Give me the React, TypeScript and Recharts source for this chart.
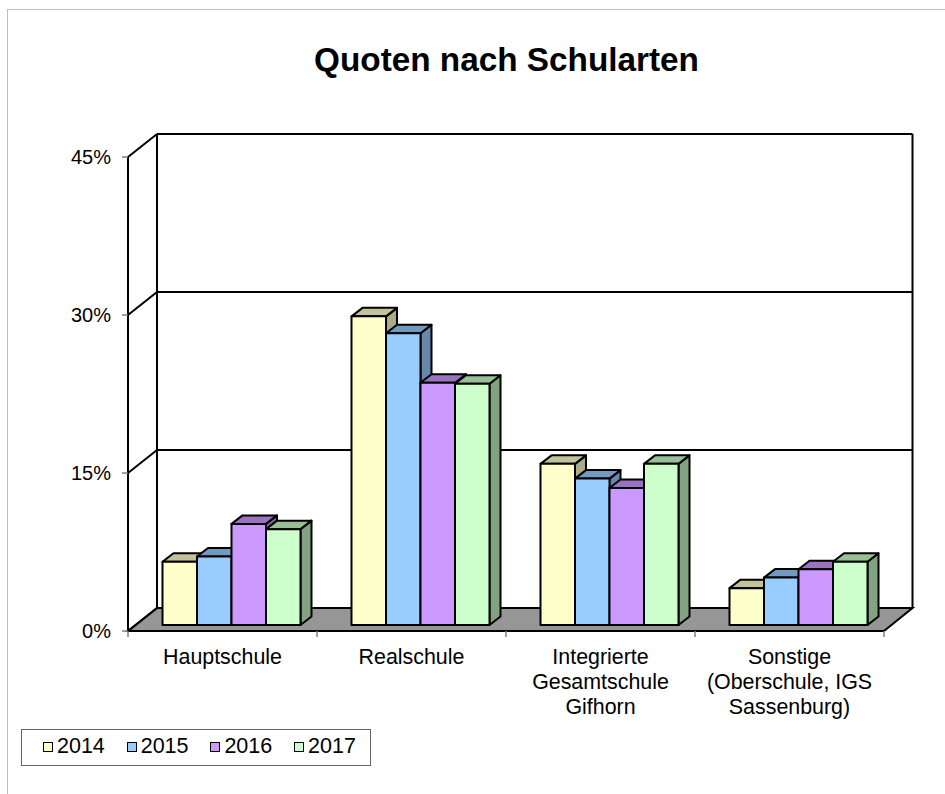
import { BarChart, Bar, XAxis, YAxis, CartesianGrid, usePlotArea } from 'recharts';

const categories = ['Hauptschule', 'Realschule', 'Integrierte Gesamtschule Gifhorn', 'Sonstige (Oberschule, IGS Sassenburg)'];
const categoryLines = [['Hauptschule'], ['Realschule'], ['Integrierte', 'Gesamtschule', 'Gifhorn'], ['Sonstige', '(Oberschule, IGS', 'Sassenburg)']];
const values2014 = [6.0, 29.3, 15.3, 3.5];
const values2015 = [6.5, 27.7, 13.9, 4.5];
const values2016 = [9.6, 23.0, 13.0, 5.3];
const values2017 = [9.1, 22.9, 15.3, 6.0];
const years = ['2014', '2015', '2016', '2017'];
const yTicks = [0, 15, 30, 45];
const yMax = 45;

const colors = ['#FFFFCC', '#99CCFF', '#CC99FF', '#CCFFCC'];
const topColors = ['#C2C29B', '#7299BF', '#9A73BF', '#99BF99'];
const sideColors = ['#ABAB89', '#6688AA', '#8866AA', '#82A382'];

const data = categories.map((name, i) => ({
  name,
  y2014: values2014[i],
  y2015: values2015[i],
  y2016: values2016[i],
  y2017: values2017[i],
}));

const FONT = '"Liberation Sans", Arial, sans-serif';
const WALL_DX = 29;
const WALL_DY = -23;
const PLOT_LEFT = 128;
const CATEGORY_STEP = 189;

function Bar3D(props: any) {
  const { x, y, width, height, index3d } = props;
  const dx = 11;
  const dy = -8.5;
  const l = x + 8.5;
  const r = l + width;
  const t = y - 6;
  const b = t + height;
  return (
    <g stroke="#000" strokeWidth={2} strokeLinejoin="round">
      <polygon points={`${r},${t} ${r + dx},${t + dy} ${r + dx},${b + dy} ${r},${b}`} fill={sideColors[index3d]} />
      <polygon points={`${l},${t} ${l + dx},${t + dy} ${r + dx},${t + dy} ${r},${t}`} fill={topColors[index3d]} />
      <rect x={l} y={t} width={width} height={height} fill={colors[index3d]} />
    </g>
  );
}

function Floor() {
  const plot = usePlotArea();
  if (!plot) return null;
  const left = plot.x;
  const right = plot.x + plot.width;
  const base = plot.y + plot.height;
  return (
    <polygon
      points={`${left},${base} ${left + WALL_DX},${base + WALL_DY} ${right + WALL_DX - 0.5},${base + WALL_DY} ${right},${base}`}
      fill="#969696"
      stroke="#000"
      strokeWidth={2}
    />
  );
}

function YTick(props: any) {
  const { x, y, payload } = props;
  return (
    <g>
      <line x1={PLOT_LEFT} y1={y} x2={PLOT_LEFT + WALL_DX} y2={y + WALL_DY} stroke="#000" strokeWidth={2} />
      <text x={x} y={y} dy={7} textAnchor="end" fontFamily={FONT} fontSize={20} fill="#000">
        {payload.value}%
      </text>
    </g>
  );
}

function XTick(props: any) {
  const { x, index } = props;
  const axisY = 631;
  // ticks sit on the category boundaries, not under the labels
  return (
    <g>
      <line x1={x - CATEGORY_STEP / 2} y1={axisY} x2={x - CATEGORY_STEP / 2} y2={axisY + 6} stroke="#808080" strokeWidth={1.5} />
      {index === categories.length - 1 && (
        <line x1={x + CATEGORY_STEP / 2} y1={axisY} x2={x + CATEGORY_STEP / 2} y2={axisY + 6} stroke="#808080" strokeWidth={1.5} />
      )}
      <text x={x} y={axisY} textAnchor="middle" fontFamily={FONT} fontSize={21.4} fill="#000">
        {categoryLines[index].map((line, i) => (
          <tspan key={line} x={x} dy={i === 0 ? 33 : 25}>
            {line}
          </tspan>
        ))}
      </text>
    </g>
  );
}

export default function App() {
  const wallRight = PLOT_LEFT + WALL_DX + CATEGORY_STEP * categories.length - 0.5;
  return (
    <div style={{ position: 'absolute', left: 0, top: 0, width: 945, height: 794, background: '#fff', overflow: 'hidden' }}>
      <div style={{ position: 'absolute', left: 7, top: 9, width: 938, height: 785, borderTop: '1.5px solid #bdbdbd', borderLeft: '1.5px solid #bdbdbd' }} />
      <div style={{ position: 'absolute', left: 0, top: 40, width: 1013, textAlign: 'center', fontFamily: FONT, fontSize: 33.3, fontWeight: 700, lineHeight: '40px' }}>
        Quoten nach Schularten
      </div>
      <BarChart
        width={945}
        height={794}
        data={data}
        barSize={34.5}
        barGap={0}
        margin={{ top: 157, right: 61, bottom: 63, left: 68 }}
        style={{ position: 'absolute', left: 0, top: 0 }}
      >
        <CartesianGrid
          stroke="#000"
          strokeWidth={2}
          x={PLOT_LEFT + WALL_DX}
          y={157 + WALL_DY}
          width={wallRight - PLOT_LEFT - WALL_DX}
          height={474}
          verticalPoints={[PLOT_LEFT + WALL_DX, wallRight]}
          horizontalCoordinatesGenerator={({ offset }: any) =>
            yTicks.map((t) => offset.top + offset.height * (1 - t / yMax) + WALL_DY)
          }
        />
        <Floor />
        <XAxis
          dataKey="name"
          interval={0}
          height={100}
          axisLine={{ stroke: '#000', strokeWidth: 2 }}
          tickLine={false}
          tick={<XTick />}
        />
        <YAxis
          domain={[0, yMax]}
          ticks={yTicks}
          width={60}
          axisLine={{ stroke: '#000', strokeWidth: 2 }}
          tickLine={{ stroke: '#808080', strokeWidth: 1.5 }}
          tickSize={6}
          tickMargin={11}
          tick={<YTick />}
        />
        <Bar dataKey="y2014" isAnimationActive={false} shape={<Bar3D index3d={0} />} />
        <Bar dataKey="y2015" isAnimationActive={false} shape={<Bar3D index3d={1} />} />
        <Bar dataKey="y2016" isAnimationActive={false} shape={<Bar3D index3d={2} />} />
        <Bar dataKey="y2017" isAnimationActive={false} shape={<Bar3D index3d={3} />} />
      </BarChart>
      <div
        style={{
          position: 'absolute',
          left: 21,
          top: 729,
          width: 350,
          height: 37,
          border: '1px solid #666',
          display: 'flex',
          alignItems: 'center',
          fontFamily: FONT,
          fontSize: 21.5,
          paddingLeft: 21,
          paddingBottom: 2,
          boxSizing: 'border-box',
        }}
      >
        {years.map((year, i) => (
          <div key={year} style={{ display: 'flex', alignItems: 'center', flex: '0 0 83.7px' }}>
            <span style={{ width: 8, height: 8, border: '1.5px solid #000', background: colors[i], marginRight: 4 }} />
            {year}
          </div>
        ))}
      </div>
    </div>
  );
}
